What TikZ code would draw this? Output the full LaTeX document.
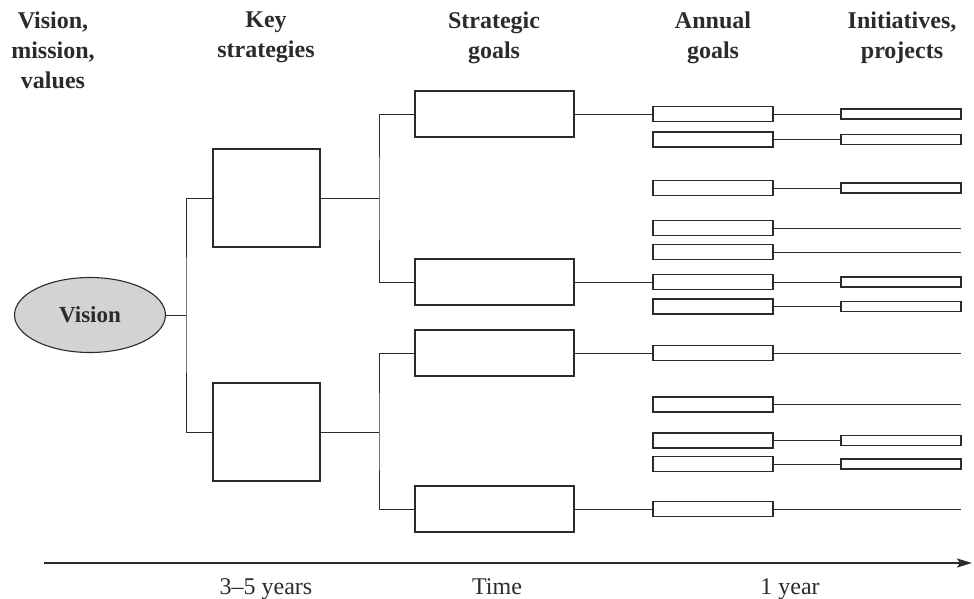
\documentclass[tikz,border=0pt]{standalone}
\usepackage{fontspec}
\setmainfont{Liberation Serif}
\usetikzlibrary{arrows.meta,shapes.geometric}
\definecolor{ink}{HTML}{2B2B2B}
\definecolor{visionfill}{HTML}{D1D3D4}
\tikzset{
  conn/.style={draw=ink, line width=1pt},
  boxbase/.style={draw=ink, line width=1.1pt, fill=white, inner sep=0pt},
  stratbox/.style={boxbase, minimum width=107pt, minimum height=98pt},
  goalbox/.style={boxbase, minimum width=159pt, minimum height=46pt},
  annualbox/.style={boxbase, minimum width=120pt, minimum height=15pt},
  initbox/.style={boxbase, minimum width=120pt, minimum height=10pt},
  header/.style={anchor=north, align=center, inner sep=0pt, text=ink,
    font=\bfseries\fontsize{24}{30}\selectfont},
  timelabel/.style={anchor=base, inner sep=0pt, text=ink,
    font=\fontsize{24}{28}\selectfont},
}
\begin{document}
\begin{tikzpicture}[x=1pt, y=-1pt]
\useasboundingbox (0,0) rectangle (974,598);

% column headings
\node[header] (hVision) at (53,12) {Vision,\\mission,\\values};
\node[header] (hKey) at (266,12) {Key\\strategies};
\node[header] (hGoals) at (494,12) {Strategic\\goals};
\node[header] (hAnnual) at (713,12) {Annual\\goals};
\node[header] (hInit) at (902,12) {Initiatives,\\projects};

% vision
\node[ellipse, draw=ink, line width=1.1pt, fill=visionfill, minimum width=151pt,
  minimum height=75pt, inner sep=0pt, text=ink,
  font=\bfseries\fontsize{23}{26}\selectfont] (vision) at (90,315) {Vision};

% key strategies
\node[stratbox] (ks1) at (266.5,198) {};
\node[stratbox] (ks2) at (266.5,432) {};

% strategic goals
\node[goalbox] (g1) at (494.5,114) {};
\node[goalbox] (g2) at (494.5,282) {};
\node[goalbox] (g3) at (494.5,353) {};
\node[goalbox] (g4) at (494.5,509) {};

% annual goals
\foreach \i/\y in {1/114,2/139.5,3/188,4/228,5/252,6/282,7/306.5,8/353,9/404.5,10/440.5,11/464,12/509}
  \node[annualbox] (a\i) at (713,\y) {};

% initiatives and projects, each beside its annual goal
\foreach \i in {1,2,3,6,7,10,11}
  \node[initbox] (p\i) at ([xshift=188pt]a\i.center) {};

% free ends of annual goals without a project yet
\foreach \i in {4,5,8,9,12}
  \coordinate (e\i) at ([xshift=248pt]a\i.center);

% junctions of the tree
\coordinate (j1) at (186,315);
\coordinate (j2) at (379,198);
\coordinate (j3) at (379,432);

\draw[conn] (vision.east) -- (j1);
\draw[conn] (ks1.west) -| (j1) |- (ks2.west);
\draw[conn] (ks1.east) -- (j2);
\draw[conn] (g1.west) -| (j2) |- (g2.west);
\draw[conn] (ks2.east) -- (j3);
\draw[conn] (g3.west) -| (j3) |- (g4.west);

\draw[conn] (g1.east) -- (a1.west);
\draw[conn] (g2.east) -- (a6.west);
\draw[conn] (g3.east) -- (a8.west);
\draw[conn] (g4.east) -- (a12.west);

\foreach \i in {1,2,3,6,7,10,11}
  \draw[conn] (a\i.east) -- (p\i.west);
\foreach \i in {4,5,8,9,12}
  \draw[conn] (a\i.east) -- (e\i);

% time axis
\coordinate (t0) at (44,563);
\coordinate (t1) at (972,563);
\draw[draw=ink, line width=2pt, -{Stealth[length=15pt, width=9pt, inset=3pt]}] (t0) -- (t1);
\node[timelabel] (tLong) at (266,594) {3--5 years};
\node[timelabel] (tTime) at (497,594) {Time};
\node[timelabel] (tShort) at (790,594) {1 year};

\end{tikzpicture}
\end{document}
